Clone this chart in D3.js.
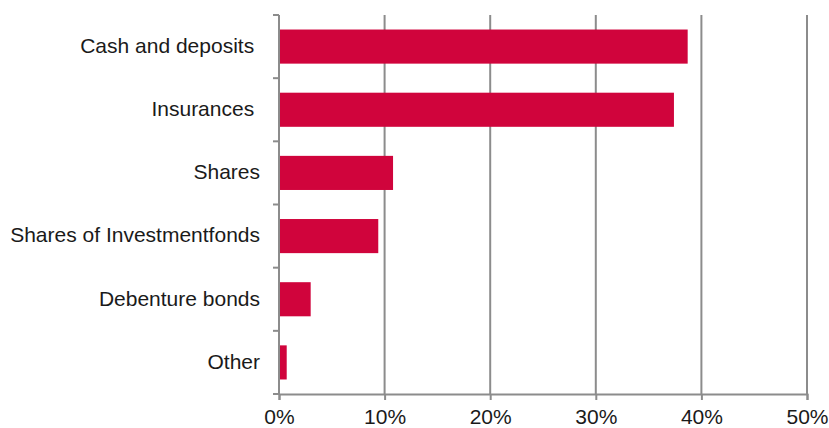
<!DOCTYPE html>
<html>
<head>
<meta charset="utf-8">
<script src="https://cdn.jsdelivr.net/npm/d3@7"></script>
<style>
  html, body { margin: 0; padding: 0; background: #fff; }
  svg { display: block; font-family: "Liberation Sans", Arial, sans-serif; }
</style>
</head>
<body>
<svg id="chart" width="829" height="428"></svg>
<script>
// Household financial assets by type (share of total)
const categories = ["Cash and deposits", "Insurances", "Shares", "Shares of Investmentfonds", "Debenture bonds", "Other"];
const shares = [0.387, 0.374, 0.108, 0.094, 0.030, 0.0073];
const xTicks = [0, 0.1, 0.2, 0.3, 0.4, 0.5];

const svg = d3.select("#chart");
const margin = { top: 15, right: 22, bottom: 34, left: 279 };
const width = 829 - margin.left - margin.right;
const height = 428 - margin.top - margin.bottom;

const g = svg.append("g").attr("transform", `translate(${margin.left},${margin.top})`);

const x = d3.scaleLinear().domain([0, 0.5]).range([0, width]);
const y = d3.scaleBand().domain(categories).range([0, height]).paddingInner(0.46).paddingOuter(0.23);

const gridColor = "#8c8c8c";
const textColor = "#1a1a1a";
const fontSize = 21;

// vertical gridlines
g.append("g")
  .selectAll("line")
  .data(xTicks.slice(1))
  .join("line")
  .attr("x1", d => x(d)).attr("x2", d => x(d))
  .attr("y1", 0).attr("y2", height)
  .attr("stroke", gridColor).attr("stroke-width", 2);

// bars
g.append("g")
  .selectAll("rect")
  .data(categories)
  .join("rect")
  .attr("x", x(0))
  .attr("y", d => y(d))
  .attr("height", y.bandwidth())
  .attr("width", (d, i) => x(shares[i]) - x(0))
  .attr("fill", "#d0043c");

// x axis
const xAxis = g.append("g")
  .attr("transform", `translate(0,${height})`)
  .call(d3.axisBottom(x).tickValues(xTicks).tickFormat(d3.format(".0%")).tickSizeOuter(0).tickSize(6).tickPadding(9));
xAxis.select(".domain").attr("stroke", gridColor).attr("stroke-width", 2);
xAxis.selectAll(".tick line").attr("stroke", gridColor).attr("stroke-width", 2);
xAxis.selectAll("text").attr("font-size", fontSize).attr("fill", textColor)
  .attr("font-family", "Liberation Sans, Arial, sans-serif");

// y axis: line plus ticks between categories
const boundaries = d3.range(categories.length + 1).map(i => i * height / categories.length);
const yAxis = g.append("g");
yAxis.append("line")
  .attr("x1", 0).attr("x2", 0).attr("y1", 0).attr("y2", height)
  .attr("stroke", gridColor).attr("stroke-width", 2);
yAxis.selectAll("line.tick")
  .data(boundaries)
  .join("line")
  .attr("class", "tick")
  .attr("x1", -6).attr("x2", 0)
  .attr("y1", d => d).attr("y2", d => d)
  .attr("stroke", gridColor).attr("stroke-width", 2);
yAxis.selectAll("text")
  .data(categories)
  .join("text")
  .attr("x", -19)
  .attr("y", d => y(d) + y.bandwidth() / 2)
  .attr("dy", "0.3em")
  .attr("text-anchor", "end")
  .attr("font-size", fontSize)
  .attr("fill", textColor)
  .attr("xml:space", "preserve")
  .text((d, i) => i < 2 ? d + " " : d);
</script>
</body>
</html>
